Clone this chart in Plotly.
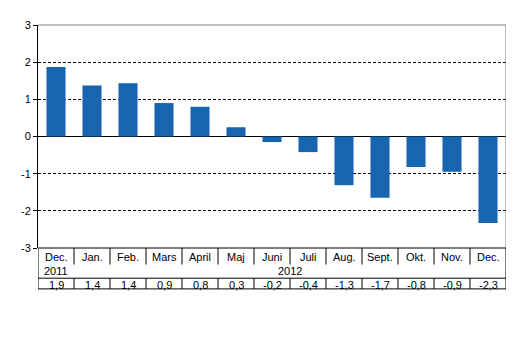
import plotly.graph_objects as go

months = ["Dec.", "Jan.", "Feb.", "Mars", "April", "Maj", "Juni", "Juli", "Aug.", "Sept.", "Okt.", "Nov.", "Dec."]
years = ["2011", "2012"]
values = [1.87, 1.37, 1.43, 0.9, 0.8, 0.25, -0.15, -0.42, -1.31, -1.65, -0.82, -0.95, -2.33]
value_labels = ["1,9", "1,4", "1,4", "0,9", "0,8", "0,3", "-0,2", "-0,4", "-1,3", "-1,7", "-0,8", "-0,9", "-2,3"]
y_ticks = [3, 2, 1, 0, -1, -2, -3]

n = len(months)
xs = list(range(n))
FONT = "Liberation Sans, Arial, sans-serif"

fig = go.Figure()
fig.add_trace(go.Bar(x=xs, y=values, marker=dict(color="#1866b2", line=dict(width=0)), width=0.53))

H = 229.0
def py(pix):
    return (248 - pix) / H

shapes = []
def line(x0, y0, x1, y1, xref="x", color="black", width=1):
    shapes.append(dict(type="line", xref=xref, yref="paper", x0=x0, y0=y0, x1=x1, y1=y1,
                       line=dict(color=color, width=width)))

# plot area border (top, right) gray
line(-0.5, 1, n - 0.5, 1, color="#808080")
line(n - 0.5, 1, n - 0.5, 0, color="#808080")
# table lines
line(-0.5, 0, n - 0.5, 0)
line(-0.5, 0, -0.5, py(290))
line(n - 0.5, 0, n - 0.5, py(290))
for i in range(1, n):
    line(i - 0.5, 0, i - 0.5, py(265))
    line(i - 0.5, py(279), i - 0.5, py(290))
x_pct = -0.5 - (38 - 21) / 36.0
line(x_pct, py(279), n - 0.5, py(279))
line(x_pct, py(290), n - 0.5, py(290))
line(x_pct, py(279), x_pct, py(290))

ann = []
def text(x, y, s):
    ann.append(dict(x=x, y=y, xref="x", yref="paper", text=s, showarrow=False,
                    font=dict(family=FONT, size=11, color="black"), xanchor="center", yanchor="middle"))

for i, m in enumerate(months):
    text(i, py(257), m)
    text(i, py(285.5), value_labels[i])
text(0, py(272), years[0])
text((1 + n - 1) / 2, py(272), years[1])
text((x_pct - 0.5) / 2, py(285.5), "%")

fig.update_layout(
    width=530, height=358,
    margin=dict(l=30, r=32, t=11, b=118),
    paper_bgcolor="white", plot_bgcolor="white",
    showlegend=False,
    shapes=shapes, annotations=ann,
    font=dict(family=FONT, size=11, color="black"),
    xaxis=dict(range=[-0.5, n - 0.5], showticklabels=False, showgrid=False, zeroline=False,
               showline=False, ticks="", fixedrange=True),
    yaxis=dict(range=[-3, 3], tickvals=y_ticks, ticktext=[str(v) for v in y_ticks],
               showgrid=True, gridcolor="black", griddash="3px,2px", gridwidth=1,
               zeroline=True, zerolinecolor="black", zerolinewidth=1,
               showline=True, linecolor="black", linewidth=1,
               ticks="outside", ticklen=4, tickcolor="black",
               tickfont=dict(family=FONT, size=11, color="black")),
)

fig.write_html("out.html")
